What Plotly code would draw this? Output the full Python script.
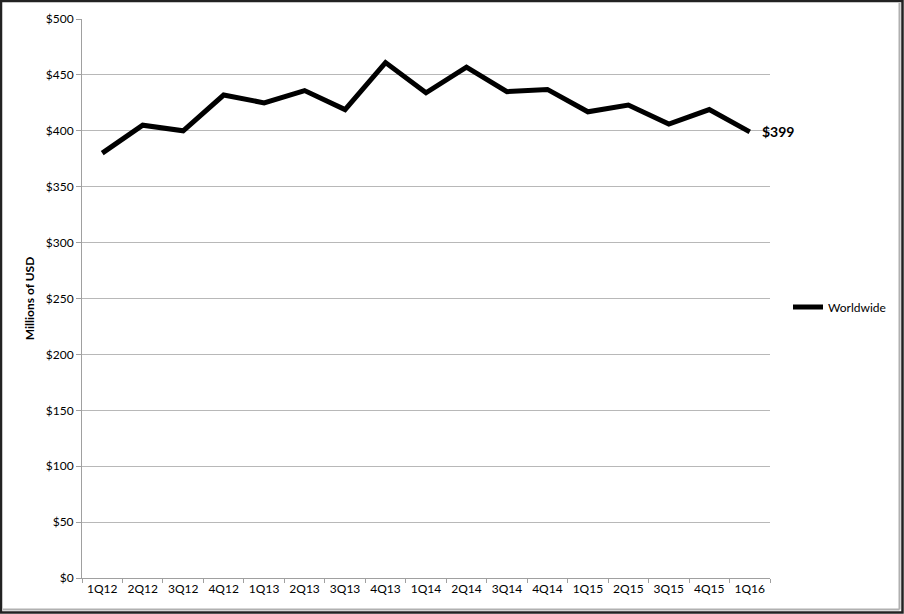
import plotly.graph_objects as go

quarters = ["1Q12", "2Q12", "3Q12", "4Q12", "1Q13", "2Q13", "3Q13", "4Q13", "1Q14",
            "2Q14", "3Q14", "4Q14", "1Q15", "2Q15", "3Q15", "4Q15", "1Q16"]
worldwide = [380, 405, 400, 432, 425, 436, 419, 461, 434, 457, 435, 437, 417, 423, 406, 419, 399]
series_name = "Worldwide"
y_ticks = [0, 50, 100, 150, 200, 250, 300, 350, 400, 450, 500]
y_tick_text = ["$" + str(v) for v in y_ticks]

W, H = 904, 614
L, R, T, B = 82, 770, 19, 578

def px(x):
    return (x - L) / (R - L)

def py(y):
    return (B - y) / (B - T)

FONT = "Lato, Open Sans, sans-serif"

fig = go.Figure()
fig.add_trace(go.Scatter(
    x=quarters, y=worldwide, mode="lines", name=series_name,
    line=dict(color="black", width=5), showlegend=True,
))

fig.add_annotation(
    x=quarters[-1], y=worldwide[-1], text="<b>$" + str(worldwide[-1]) + "</b>",
    showarrow=False, xanchor="left", yanchor="middle", xshift=10,
    font=dict(family=FONT, size=14, color="black"),
)

shapes = [
    dict(type="line", xref="paper", yref="paper", x0=px(899.5), x1=px(899.5), y0=py(3), y1=py(609.5),
         line=dict(color="#b0b0b0", width=2)),
    dict(type="line", xref="paper", yref="paper", x0=px(3), x1=px(899.5), y0=py(609.5), y1=py(609.5),
         line=dict(color="#b0b0b0", width=2)),
    dict(type="rect", xref="paper", yref="paper", x0=px(1), x1=px(902.5), y0=py(1), y1=py(612.5),
         line=dict(color="#222222", width=2.5)),
]

fig.update_layout(
    width=W, height=H,
    margin=dict(l=L, r=W - R, t=T, b=H - B, pad=0),
    paper_bgcolor="white", plot_bgcolor="white",
    font=dict(family=FONT, size=12, color="black"),
    shapes=shapes,
    showlegend=True,
    legend=dict(x=px(788), y=py(307), xanchor="left", yanchor="middle",
                font=dict(family=FONT, size=12, color="black"),
                itemwidth=30, bgcolor="rgba(0,0,0,0)"),
    xaxis=dict(
        type="category", range=[-0.5, len(quarters) - 0.5],
        showgrid=False, showline=True, linecolor="#a0a0a0", linewidth=1,
        ticks="outside", tickson="boundaries", ticklen=4, tickcolor="#a0a0a0",
        tickfont=dict(family=FONT, size=12, color="black"),
        zeroline=False,
    ),
    yaxis=dict(
        range=[0, 500], tickvals=y_ticks, ticktext=y_tick_text,
        showgrid=True, gridcolor="#b8b8b8", gridwidth=1,
        showline=True, linecolor="#a0a0a0", linewidth=1,
        ticks="outside", ticklen=5, tickcolor="#a0a0a0",
        tickfont=dict(family=FONT, size=12, color="black"),
        zeroline=False,
        title=dict(text="<b>Millions of USD</b>", font=dict(family=FONT, size=12, color="black"), standoff=8),
    ),
)

fig.write_html("out.html", config={"displayModeBar": False},
               post_script="document.body.style.margin='0';document.body.style.overflow='hidden';")
